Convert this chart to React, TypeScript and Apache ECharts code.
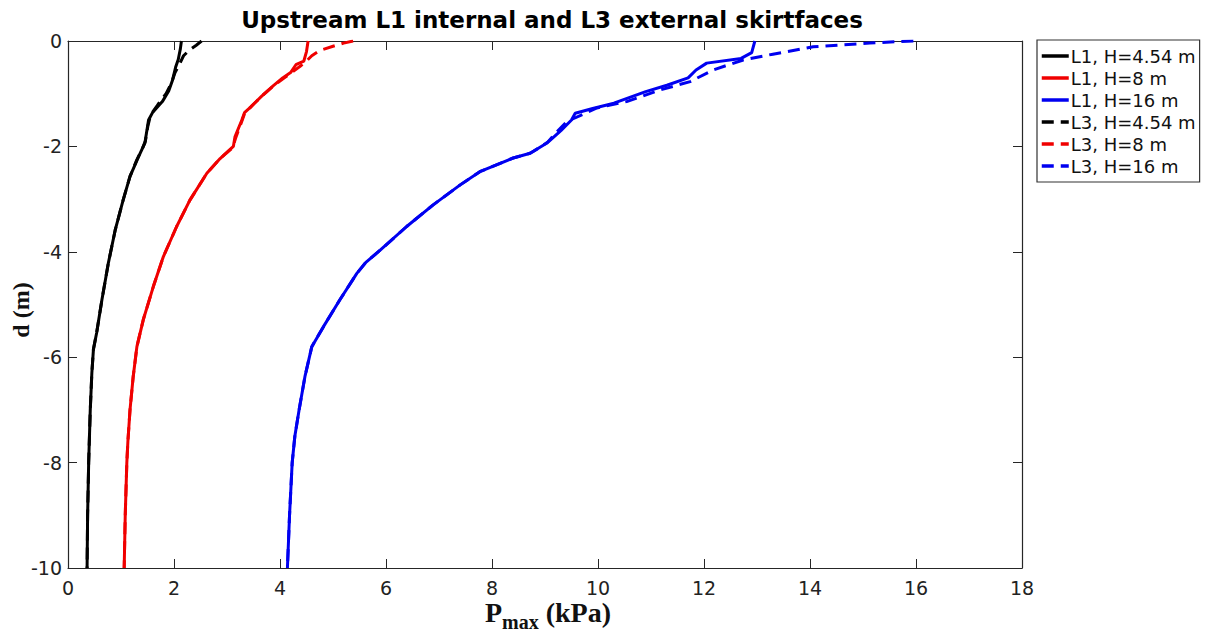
import React, { useEffect, useRef } from "react";
import * as echarts from "echarts";

const seriesNames = [
  "L1, H=4.54 m",
  "L1, H=8 m",
  "L1, H=16 m",
  "L3, H=4.54 m",
  "L3, H=8 m",
  "L3, H=16 m",
];
const seriesColors = ["#000000", "#f00000", "#0000f0", "#000000", "#f00000", "#0000f0"];
const seriesDashed = [false, false, false, true, true, true];

const xTicks = { min: 0, max: 18, interval: 2 };
const yTicks = { min: -10, max: 0, interval: 2 };

// [Pmax (kPa), d (m)]
const L1_H454: number[][] = [
  [2.14, 0], [2.12, -0.15], [2.08, -0.35], [2.03, -0.5], [1.97, -0.75], [1.9, -0.95],
  [1.78, -1.15], [1.6, -1.35], [1.52, -1.5], [1.48, -1.75], [1.45, -1.94], [1.33, -2.2],
  [1.17, -2.57], [1.04, -3.02], [0.89, -3.59], [0.76, -4.22], [0.64, -4.91], [0.54, -5.54],
  [0.48, -5.85], [0.45, -6.3], [0.42, -7], [0.39, -8], [0.37, -9], [0.36, -10],
];
const L1_H8: number[][] = [
  [4.53, 0], [4.5, -0.2], [4.45, -0.38], [4.3, -0.45], [4.2, -0.6], [4.05, -0.7],
  [3.87, -0.85], [3.65, -1.05], [3.45, -1.25], [3.33, -1.36], [3.28, -1.5], [3.15, -1.82],
  [3.12, -2.0], [2.87, -2.23], [2.62, -2.51], [2.3, -3.02], [2.05, -3.52], [1.8, -4.09],
  [1.61, -4.66], [1.42, -5.29], [1.3, -5.8], [1.23, -6.37], [1.17, -7], [1.13, -7.6],
  [1.11, -8], [1.08, -9], [1.06, -10],
];
const L1_H16: number[][] = [
  [12.96, 0], [12.9, -0.22], [12.7, -0.33], [12.05, -0.42], [11.85, -0.55], [11.7, -0.7],
  [11.3, -0.84], [10.9, -0.96], [10.3, -1.18], [9.9, -1.28], [9.57, -1.37], [9.5, -1.5],
  [9.3, -1.7], [9.1, -1.88], [9.03, -1.94], [8.72, -2.13], [8.4, -2.22], [7.77, -2.48],
  [7.4, -2.73], [6.89, -3.11], [6.39, -3.52], [5.89, -3.97], [5.62, -4.2], [5.45, -4.41],
  [5.13, -4.91], [4.82, -5.42], [4.6, -5.8], [4.47, -6.37], [4.36, -7], [4.28, -7.5],
  [4.23, -8], [4.18, -9], [4.14, -10],
];
const L3_H454: number[][] = [
  [2.52, 0], [2.42, -0.08], [2.28, -0.18], [2.18, -0.28], [2.1, -0.45], [2.02, -0.6],
  [1.95, -0.8], [1.85, -1.0], [1.7, -1.2], [1.56, -1.4], [1.51, -1.6], [1.46, -1.9],
  [1.4, -2.05], [1.3, -2.25], [1.17, -2.57], [1.04, -3.02], [0.89, -3.59], [0.76, -4.22],
  [0.64, -4.91], [0.54, -5.54], [0.48, -5.85], [0.45, -6.3], [0.42, -7], [0.39, -8],
  [0.37, -9], [0.36, -10],
];
const L3_H8: number[][] = [
  [5.38, 0], [5.2, -0.04], [5.0, -0.1], [4.75, -0.18], [4.6, -0.28], [4.5, -0.38],
  [4.38, -0.48], [4.22, -0.6], [4.05, -0.72], [3.88, -0.85], [3.65, -1.05], [3.45, -1.25],
  [3.33, -1.38], [3.27, -1.55], [3.16, -1.85], [3.11, -2.02], [2.87, -2.23], [2.62, -2.51],
  [2.3, -3.02], [2.05, -3.52], [1.8, -4.09], [1.61, -4.66], [1.42, -5.29], [1.3, -5.8],
  [1.23, -6.37], [1.17, -7], [1.13, -7.6], [1.11, -8], [1.08, -9], [1.06, -10],
];
const L3_H16: number[][] = [
  [15.95, 0], [15.7, -0.01], [15.13, -0.04], [14.06, -0.11], [13.3, -0.25], [12.74, -0.36],
  [12.17, -0.55], [11.74, -0.77], [11.17, -0.93], [10.54, -1.15], [9.98, -1.27], [9.41, -1.53],
  [9.2, -1.75], [9.05, -1.92], [8.9, -2.02], [8.72, -2.13], [8.4, -2.22], [7.77, -2.48],
  [7.4, -2.73], [6.89, -3.11], [6.39, -3.52], [5.89, -3.97], [5.62, -4.2], [5.45, -4.41],
  [5.13, -4.91], [4.82, -5.42], [4.6, -5.8], [4.47, -6.37], [4.36, -7], [4.28, -7.5],
  [4.23, -8], [4.18, -9], [4.14, -10],
];

const seriesData = [L1_H454, L1_H8, L1_H16, L3_H454, L3_H8, L3_H16];

const AXIS_COLOR = "#262626";

export default function App() {
  const ref = useRef<HTMLDivElement>(null);
  useEffect(() => {
    if (!ref.current) return;
    const chart = echarts.init(ref.current, null, { renderer: "svg" });
    const tickCommon = {
      show: true,
      inside: true,
      length: 9,
      lineStyle: { color: AXIS_COLOR, width: 1 },
    };
    const lineCommon = { show: true, onZero: false, lineStyle: { color: AXIS_COLOR, width: 1.2 } };
    const labelFont = { fontFamily: "DejaVu Sans", fontSize: 19, color: "#222" };
    chart.setOption({
      animation: false,
      backgroundColor: "#ffffff",
      grid: { left: 68, right: 188, top: 41, bottom: 65, containLabel: false },
      title: {
        text: "Upstream L1 internal and L3 external skirtfaces",
        left: 547,
        textAlign: "center",
        top: 3,
        textStyle: { fontFamily: "DejaVu Sans", fontWeight: "bold", fontSize: 23, color: "#000" },
      },
      legend: {
        orient: "vertical",
        left: 1037,
        top: 40,
        padding: [5, 4, 5, 3],
        itemGap: 0,
        itemWidth: 27,
        itemHeight: 14,
        borderColor: "#333",
        borderWidth: 1.2,
        backgroundColor: "#fff",
        data: seriesNames,
        itemStyle: { color: "rgba(0,0,0,0)", borderWidth: 0, borderColor: "rgba(0,0,0,0)" },
        lineStyle: { width: 3.5 },
        textStyle: { fontFamily: "DejaVu Sans", fontSize: 18, color: "#111", lineHeight: 22, padding: [0, 0, 0, -3] },
      },
      xAxis: [
        {
          type: "value",
          position: "bottom",
          min: xTicks.min,
          max: xTicks.max,
          interval: xTicks.interval,
          axisLine: lineCommon,
          axisTick: tickCommon,
          splitLine: { show: false },
          axisLabel: { ...labelFont, margin: 10 },
        },
        {
          type: "value",
          position: "top",
          min: xTicks.min,
          max: xTicks.max,
          interval: xTicks.interval,
          axisLine: lineCommon,
          axisTick: tickCommon,
          splitLine: { show: false },
          axisLabel: { show: false },
        },
      ],
      yAxis: [
        {
          type: "value",
          position: "left",
          min: yTicks.min,
          max: yTicks.max,
          interval: yTicks.interval,
          axisLine: lineCommon,
          axisTick: tickCommon,
          splitLine: { show: false },
          axisLabel: { ...labelFont, margin: 6 },
        },
        {
          type: "value",
          position: "right",
          min: yTicks.min,
          max: yTicks.max,
          interval: yTicks.interval,
          axisLine: lineCommon,
          axisTick: tickCommon,
          splitLine: { show: false },
          axisLabel: { show: false },
        },
      ],
      graphic: [
        {
          type: "text",
          x: 21,
          y: 310,
          rotation: Math.PI / 2,
          style: {
            text: "d (m)",
            fontFamily: "Liberation Serif",
            fontWeight: "bold",
            fontSize: 24,
            fill: "#111",
            textAlign: "center",
            textVerticalAlign: "middle",
          },
        },
        {
          type: "text",
          x: 548,
          y: 626,
          style: {
            text: "{a|P}{b|max}{a| (kPa)}",
            textAlign: "center",
            textVerticalAlign: "bottom",
            fill: "#111",
            rich: {
              a: { fontFamily: "Liberation Serif", fontWeight: "bold", fontSize: 28, lineHeight: 26, fill: "#111", verticalAlign: "bottom" },
              b: { fontFamily: "Liberation Serif", fontWeight: "bold", fontSize: 20, lineHeight: 26, fill: "#111", verticalAlign: "bottom", padding: [0, 0, -6, 0] },
            },
          },
        },
      ],
      series: seriesNames.map((name, i) => ({
        name,
        type: "line",
        xAxisIndex: 0,
        yAxisIndex: 0,
        data: seriesData[i],
        symbol: "none",
        smooth: false,
        z: seriesDashed[i] ? 3 : 2,
        lineStyle: {
          color: seriesColors[i],
          width: 3,
          type: seriesDashed[i] ? [12, 7] : "solid",
        },
        itemStyle: { color: seriesColors[i] },
      })),
    });
    return () => chart.dispose();
  }, []);
  return (
    <div
      ref={ref}
      style={{ position: "fixed", left: 0, top: 0, width: 1210, height: 633, background: "#fff" }}
    />
  );
}
